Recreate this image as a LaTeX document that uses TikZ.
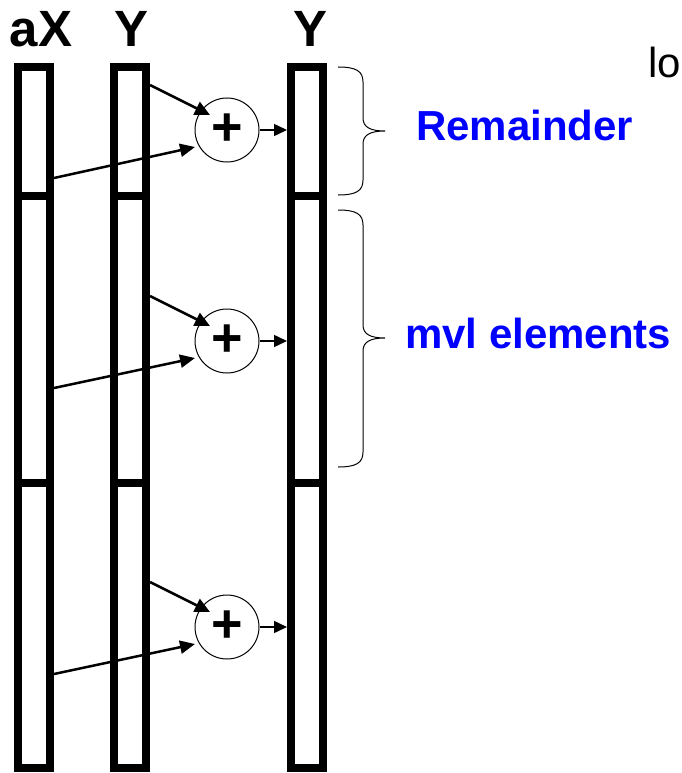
\documentclass[tikz,border=0pt]{standalone}
\usepackage{fontspec}
\setmainfont{Liberation Sans}
\usetikzlibrary{arrows.meta,calc}
\definecolor{labelblue}{RGB}{0,0,255}
\begin{document}
\begin{tikzpicture}[x=1pt,y=-1pt]
\useasboundingbox (0,0) rectangle (681,773);
% the three vectors
\draw[line width=8pt] (18,67) rectangle (50,196);
\draw[line width=8pt] (18,196) rectangle (50,483);
\draw[line width=8pt] (18,483) rectangle (50,768);
\draw[line width=8pt] (114,67) rectangle (146,196);
\draw[line width=8pt] (114,196) rectangle (146,483);
\draw[line width=8pt] (114,483) rectangle (146,768);
\draw[line width=8pt] (291,67) rectangle (323,196);
\draw[line width=8pt] (291,196) rectangle (323,483);
\draw[line width=8pt] (291,483) rectangle (323,768);
\node[font=\fontsize{51}{51}\selectfont\bfseries,anchor=base,inner sep=0pt] (lax) at (41,47) {aX};
\node[font=\fontsize{51}{51}\selectfont\bfseries,anchor=base,inner sep=0pt] (ly) at (132,47) {Y};
\node[font=\fontsize{51}{51}\selectfont\bfseries,anchor=base,inner sep=0pt] (lyy) at (311,47) {Y};
% adders
\node[draw,circle,line width=1pt,minimum size=64pt,inner sep=0pt,font=\fontsize{54}{54}\selectfont\bfseries] (p1) at (227,130) {+};
\node[draw,circle,line width=1pt,minimum size=64pt,inner sep=0pt,font=\fontsize{54}{54}\selectfont\bfseries] (p2) at (227,341) {+};
\node[draw,circle,line width=1pt,minimum size=64pt,inner sep=0pt,font=\fontsize{54}{54}\selectfont\bfseries] (p3) at (227,627) {+};
\coordinate (y1) at (150,85);
\coordinate (x1) at (54,178);
\coordinate (o1) at (287,130);
\coordinate (y2) at (150,296);
\coordinate (x2) at (54,388);
\coordinate (o2) at (287,341);
\coordinate (y3) at (150,582);
\coordinate (x3) at (54,674);
\coordinate (o3) at (287,627);
\draw[line width=2.5pt,-{Triangle[length=15pt,width=14pt]}] (y1) -- ($(p1)+(-17,-15)$);
\draw[line width=2.5pt,-{Triangle[length=15pt,width=13pt]}] (x1) -- ($(p1)+(-32,17)$);
\draw[line width=1.5pt,-{Triangle[length=13pt,width=12pt]}] (p1.east) -- (o1);
\draw[line width=2.5pt,-{Triangle[length=15pt,width=14pt]}] (y2) -- ($(p2)+(-17,-15)$);
\draw[line width=2.5pt,-{Triangle[length=15pt,width=13pt]}] (x2) -- ($(p2)+(-32,17)$);
\draw[line width=1.5pt,-{Triangle[length=13pt,width=12pt]}] (p2.east) -- (o2);
\draw[line width=2.5pt,-{Triangle[length=15pt,width=14pt]}] (y3) -- ($(p3)+(-17,-15)$);
\draw[line width=2.5pt,-{Triangle[length=15pt,width=13pt]}] (x3) -- ($(p3)+(-32,17)$);
\draw[line width=1.5pt,-{Triangle[length=13pt,width=12pt]}] (p3.east) -- (o3);
% braces
\draw[line width=1pt] (338,67) .. controls (356,67) and (363,71) .. (363,82) -- (363,118)
  .. controls (363,127) and (370,131) .. (385,131) .. controls (370,131) and (363,135) .. (363,144)
  -- (363,180) .. controls (363,191) and (356,195) .. (338,195);
\draw[line width=1pt] (338,210) .. controls (356,210) and (363,214) .. (363,225) -- (363,325)
  .. controls (363,334) and (370,338) .. (385,338) .. controls (370,338) and (363,342) .. (363,351)
  -- (363,452) .. controls (363,463) and (356,467) .. (338,467);
\node[font=\fontsize{42}{42}\selectfont\bfseries,text=labelblue,anchor=base west,inner sep=0pt] (rem) at (416,140) {Remainder};
\node[font=\fontsize{42}{42}\selectfont\bfseries,text=labelblue,anchor=base west,inner sep=0pt] (mvl) at (405,348) {mvl elements};
\node[font=\fontsize{42}{42}\selectfont,anchor=base west,inner sep=0pt] (lo) at (648,78) {lo};
\end{tikzpicture}
\end{document}
